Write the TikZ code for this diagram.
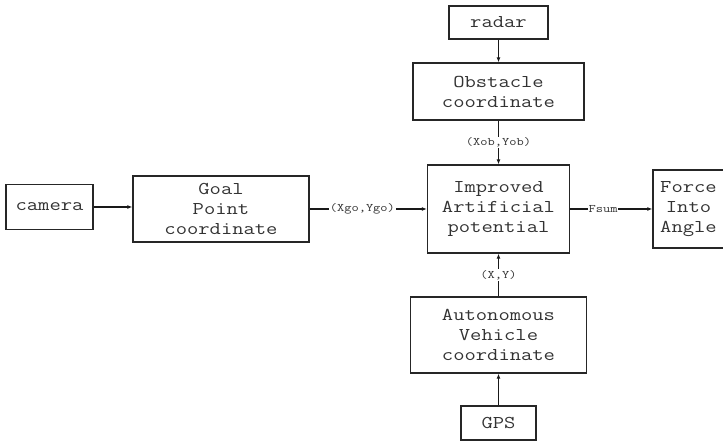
\documentclass[tikz,border=0pt]{standalone}
\usepackage{fontspec}
\setmonofont{Latin Modern Mono}[FakeStretch=1.22]
\usetikzlibrary{arrows.meta}
\begin{document}
\begin{tikzpicture}[x=1pt,y=-1pt,
  box/.style={draw=black!85, line width=1.3pt, inner sep=0pt, align=center,
    font=\ttfamily\fontsize{18}{20}\selectfont, text=black!80},
  conn/.style={draw=black!90, line width=1.1pt, -{Latex[length=5pt,width=4pt]}},
  lbl/.style={fill=white, inner sep=1pt, font=\ttfamily\fontsize{11.5}{13}\selectfont, text=black!80}]
\useasboundingbox (0,0) rectangle (723,443);
\node[box, minimum width=87pt, minimum height=45pt] (camera) at (49.5,207) {camera};
\node[box, minimum width=176pt, minimum height=66pt] (goal) at (221,209) {Goal\\Point\\coordinate};
\node[box, minimum width=142pt, minimum height=88pt] (imp) at (498.5,209) {Improved\\Artificial\\potential};
\node[box, minimum width=71pt, minimum height=78pt] (force) at (688.5,209) {Force\\Into\\Angle};
\node[box, minimum width=99pt, minimum height=33pt] (radar) at (498.5,22.5) {radar};
\node[box, minimum width=171pt, minimum height=57pt] (obs) at (498.5,91.5) {Obstacle\\coordinate};
\node[box, minimum width=176pt, minimum height=76pt] (auto) at (498.5,335) {Autonomous\\Vehicle\\coordinate};
\node[box, minimum width=75pt, minimum height=34pt] (gps) at (498.5,423) {GPS};
\draw[conn] (camera) -- (camera -| goal.west);
\draw[conn] (goal) -- node[lbl, pos=0.45] {(Xgo,Ygo)} (imp);
\draw[conn] (radar) -- (obs);
\draw[conn] (obs) -- node[lbl] {(Xob,Yob)} (imp);
\draw[conn] (auto) -- node[lbl] {(X,Y)} (imp);
\draw[conn] (gps) -- (auto);
\draw[conn] (imp) -- node[lbl, pos=0.4] {Fsum} (force);
\end{tikzpicture}
\end{document}
